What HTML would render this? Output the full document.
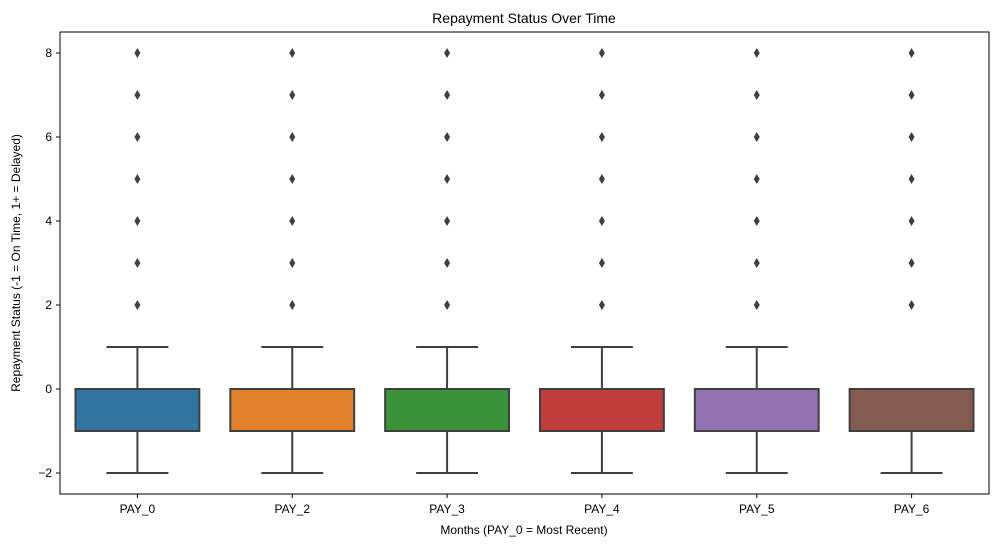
<!DOCTYPE html>
<html><head><meta charset="utf-8"><style>
body{margin:0;background:#fff;font-family:"Liberation Sans",sans-serif}
text{font-family:"Liberation Sans",sans-serif;fill:#000}
</style></head><body>
<svg width="999" height="547" xmlns="http://www.w3.org/2000/svg">
<text x="524" y="23" font-size="14" text-anchor="middle">Repayment Status Over Time</text>
<g id="plot"></g>
<rect x="60" y="32" width="929" height="462" fill="none" stroke="#000" stroke-width="1"/>
<text x="524" y="534" font-size="12" text-anchor="middle">Months (PAY_0 = Most Recent)</text>
<text transform="translate(20,263) rotate(-90)" font-size="12" text-anchor="middle">Repayment Status (-1 = On Time, 1+ = Delayed)</text>
</svg>
<script>
const categories=["PAY_0","PAY_2","PAY_3","PAY_4","PAY_5","PAY_6"];
const colors=["#3274a1","#e1812c","#3a923a","#c03d3e","#9372b2","#845b53"];
const q1=[-1,-1,-1,-1,-1,-1];
const q3=[0,0,0,0,0,0];
const medians=[0,0,0,0,0,0];
const whiskLow=[-2,-2,-2,-2,-2,-2];
const whiskHigh=[1,1,1,1,1,0];
const outliers=[[2,3,4,5,6,7,8],[2,3,4,5,6,7,8],[2,3,4,5,6,7,8],[2,3,4,5,6,7,8],[2,3,4,5,6,7,8],[2,3,4,5,6,7,8]];
const yTicks=[-2,0,2,4,6,8];
const NS="http://www.w3.org/2000/svg";
const svg=document.querySelector("svg"),g=document.getElementById("plot");
const L=60,W=929,T=32,B=494;
const y=v=>389-v*42;
const band=W/categories.length;
const x=i=>L+band*(i+0.5);
function mk(t,a,p){const e=document.createElementNS(NS,t);for(const k in a)e.setAttribute(k,a[k]);(p||g).appendChild(e);return e;}
const st="#3f3f3f";
yTicks.forEach(v=>{
 const l=mk("line",{x1:L-4,x2:L,y1:y(v),y2:y(v),stroke:"#000"},svg);
 
 
 const t=mk("text",{x:L-8,y:y(v)+4,"font-size":12,"text-anchor":"end"},svg);
 t.textContent=v<0?"\u2212"+(-v):String(v);
 
 
});
categories.forEach((c,i)=>{
 const cx=x(i),hw=band*0.4,cw=band*0.2;
 const tk=mk("line",{x1:cx,x2:cx,y1:B,y2:B+4,stroke:"#000"},svg);
 
 
 const t=mk("text",{x:cx,y:B+19,"font-size":12,"text-anchor":"middle"},svg);
 t.textContent=c;
 
 
 const w1=mk("line",{x1:cx,x2:cx,y1:y(q1[i]),y2:y(whiskLow[i]),stroke:st,"stroke-width":2});
 
 
 const w2=mk("line",{x1:cx,x2:cx,y1:y(q3[i]),y2:y(whiskHigh[i]),stroke:st,"stroke-width":2});
 
 
 const c1=mk("line",{x1:cx-cw,x2:cx+cw,y1:y(whiskLow[i]),y2:y(whiskLow[i]),stroke:st,"stroke-width":2});
 
 
 const c2=mk("line",{x1:cx-cw,x2:cx+cw,y1:y(whiskHigh[i]),y2:y(whiskHigh[i]),stroke:st,"stroke-width":2});
 
 
 const r=mk("rect",{x:cx-hw,y:y(q3[i]),width:hw*2,height:y(q1[i])-y(q3[i]),fill:colors[i],stroke:st,"stroke-width":2});
 
 
 const m=mk("line",{x1:cx-hw,x2:cx+hw,y1:y(medians[i]),y2:y(medians[i]),stroke:st,"stroke-width":2});
 
 
 outliers[i].forEach(v=>{
  const d=mk("path",{d:`M${cx},${y(v)-5}L${cx+3},${y(v)}L${cx},${y(v)+5}L${cx-3},${y(v)}Z`,fill:st});
  
  
 });
});
</script>
</body></html>
